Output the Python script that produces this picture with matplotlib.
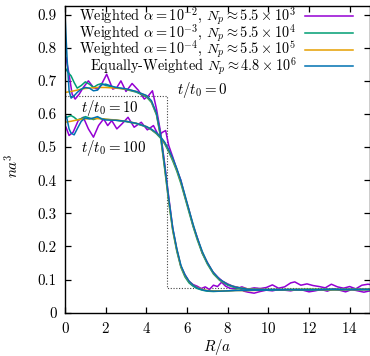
import matplotlib
matplotlib.use("Agg")
from matplotlib import pyplot as plt

plt.rcParams['font.family'] = 'serif'
plt.rcParams['font.serif'] = ['cmr10', 'DejaVu Serif']
plt.rcParams['mathtext.fontset'] = 'cm'
plt.rcParams['axes.formatter.use_mathtext'] = True

# shared radius grid for the smooth runs
r_s = [0, 0.1, 0.2, 0.3, 0.45, 0.6, 0.8, 1.0, 1.2, 1.4, 1.6, 1.8, 2.0, 2.5, 3.0,
       3.5, 4.0, 4.25, 4.5, 4.7, 4.9, 5.1, 5.3, 5.5, 5.7, 5.9, 6.1, 6.3, 6.5,
       6.75, 7.0, 7.3, 7.6, 8.0, 8.4, 9.0, 10, 11, 12, 13, 14, 15]

# t/t0 = 10
green_10 = [0.74, 0.73, 0.722, 0.715, 0.695, 0.678, 0.686, 0.697, 0.69, 0.68, 0.688,
            0.692, 0.686, 0.68, 0.674, 0.666, 0.652, 0.635, 0.597, 0.53, 0.435, 0.335,
            0.247, 0.185, 0.137, 0.108, 0.09, 0.08, 0.073, 0.068, 0.065, 0.064, 0.065,
            0.066, 0.068, 0.067, 0.07, 0.069, 0.07, 0.071, 0.07, 0.071]
orange_10 = [0.665, 0.666, 0.667, 0.668, 0.67, 0.672, 0.675, 0.677, 0.678, 0.679, 0.68,
             0.68, 0.68, 0.678, 0.675, 0.668, 0.655, 0.638, 0.6, 0.535, 0.44, 0.34,
             0.25, 0.19, 0.14, 0.112, 0.094, 0.083, 0.076, 0.07, 0.067, 0.066, 0.066,
             0.066, 0.067, 0.067, 0.068, 0.068, 0.069, 0.069, 0.07, 0.07]
blue_10 = [0.90, 0.77, 0.67, 0.648, 0.655, 0.665, 0.675, 0.68, 0.678, 0.67, 0.672,
           0.688, 0.69, 0.68, 0.676, 0.668, 0.656, 0.64, 0.602, 0.538, 0.445, 0.345,
           0.255, 0.193, 0.143, 0.114, 0.095, 0.083, 0.075, 0.069, 0.066, 0.065, 0.065,
           0.066, 0.067, 0.068, 0.068, 0.069, 0.069, 0.07, 0.07, 0.07]

# t/t0 = 100
green_100 = [0.59, 0.59, 0.593, 0.595, 0.59, 0.582, 0.586, 0.592, 0.588, 0.583, 0.588,
             0.586, 0.584, 0.581, 0.577, 0.571, 0.561, 0.552, 0.54, 0.527, 0.51, 0.486,
             0.458, 0.427, 0.39, 0.347, 0.303, 0.26, 0.221, 0.179, 0.147, 0.117, 0.098,
             0.083, 0.075, 0.07, 0.069, 0.07, 0.071, 0.069, 0.07, 0.07]
orange_100 = [0.575, 0.576, 0.577, 0.578, 0.58, 0.582, 0.584, 0.585, 0.586, 0.586, 0.586,
              0.585, 0.584, 0.582, 0.578, 0.572, 0.562, 0.553, 0.542, 0.53, 0.513, 0.49,
              0.463, 0.432, 0.395, 0.352, 0.308, 0.265, 0.225, 0.183, 0.15, 0.12, 0.1,
              0.085, 0.077, 0.072, 0.07, 0.07, 0.07, 0.07, 0.07, 0.07]
blue_100 = [0.60, 0.585, 0.555, 0.542, 0.537, 0.555, 0.578, 0.588, 0.585, 0.588, 0.592,
            0.585, 0.582, 0.581, 0.578, 0.572, 0.562, 0.554, 0.543, 0.531, 0.515, 0.492,
            0.466, 0.435, 0.398, 0.355, 0.31, 0.267, 0.227, 0.185, 0.151, 0.121, 0.101,
            0.085, 0.077, 0.071, 0.07, 0.07, 0.069, 0.07, 0.07, 0.07]

# noisy weighted alpha=1e-2 runs
r_p10 = [0.05, 0.2, 0.35, 0.5, 0.7, 0.9, 1.15, 1.4, 1.6, 1.8, 2.05, 2.35, 2.55, 2.75,
         3.0, 3.3, 3.6, 3.9, 4.1, 4.3, 4.5, 4.7, 4.9, 5.1, 5.3, 5.5, 5.7, 5.9, 6.1,
         6.3, 6.5, 6.7, 6.9, 7.1, 7.3, 7.5, 7.7, 7.9, 8.1, 8.4, 8.7, 9.0, 9.3, 9.6,
         9.9, 10.2, 10.5, 10.8, 11.1, 11.3, 11.6, 11.9, 12.2, 12.5, 12.8, 13.1, 13.4,
         13.7, 14.0, 14.3, 14.6, 14.9, 15.0]
purple_10 = [0.77, 0.72, 0.66, 0.645, 0.66, 0.68, 0.70, 0.68, 0.675, 0.69, 0.72, 0.675,
             0.68, 0.70, 0.668, 0.692, 0.672, 0.645, 0.655, 0.67, 0.615, 0.545, 0.45,
             0.35, 0.255, 0.19, 0.14, 0.115, 0.095, 0.085, 0.08, 0.073, 0.078, 0.07,
             0.083, 0.079, 0.092, 0.08, 0.074, 0.072, 0.078, 0.071, 0.075, 0.073, 0.076,
             0.084, 0.074, 0.078, 0.09, 0.093, 0.083, 0.087, 0.082, 0.079, 0.075, 0.086,
             0.078, 0.074, 0.079, 0.072, 0.083, 0.086, 0.085]

r_p100 = [0.05, 0.2, 0.4, 0.65, 0.9, 1.15, 1.4, 1.65, 1.9, 2.1, 2.3, 2.55, 2.8, 3.1,
          3.4, 3.75, 4.05, 4.35, 4.6, 4.8, 4.95, 5.1, 5.3, 5.5, 5.7, 5.9, 6.1, 6.3,
          6.5, 6.75, 7.0, 7.25, 7.5, 7.75, 8.0, 8.25, 8.5, 8.8, 9.0, 9.3, 9.6, 9.9,
          10.2, 10.5, 10.8, 11.1, 11.4, 11.7, 12.0, 12.3, 12.6, 12.9, 13.2, 13.5,
          13.8, 14.1, 14.4, 14.7, 15.0]
purple_100 = [0.56, 0.535, 0.545, 0.58, 0.59, 0.555, 0.53, 0.565, 0.585, 0.565, 0.58,
              0.555, 0.57, 0.59, 0.56, 0.575, 0.552, 0.565, 0.535, 0.545, 0.55, 0.505,
              0.47, 0.432, 0.4, 0.35, 0.31, 0.262, 0.228, 0.18, 0.152, 0.125, 0.108,
              0.095, 0.087, 0.08, 0.077, 0.065, 0.062, 0.059, 0.064, 0.068, 0.066, 0.07,
              0.068, 0.066, 0.07, 0.068, 0.063, 0.066, 0.07, 0.065, 0.072, 0.068, 0.063,
              0.07, 0.066, 0.062, 0.066]

# initial step profile, t/t0 = 0
r_0 = [0, 5, 5, 15]
n_0 = [0.655, 0.655, 0.074, 0.074]

labels = [r'Weighted $\alpha = 10^{-2}$, $N_p \approx 5.5 \times 10^3$',
          r'Weighted $\alpha = 10^{-3}$, $N_p \approx 5.5 \times 10^4$',
          r'Weighted $\alpha = 10^{-4}$, $N_p \approx 5.5 \times 10^5$',
          r'Equally-Weighted $N_p \approx 4.8 \times 10^6$']
colors = ['#9400d3', '#009e73', '#e69f00', '#0072b2']

fig = plt.figure(figsize=(3.7, 3.56), dpi=100)
ax = fig.add_axes([65 / 370, 1 - 312.7 / 356, 305 / 370, 306.7 / 356])

ax.plot(r_0, n_0, color='#444444', linestyle=(0, (1, 1.5)), linewidth=0.8)

lw = 1.1
ax.plot(r_p10, purple_10, color=colors[0], lw=lw, label=labels[0])
ax.plot(r_p100, purple_100, color=colors[0], lw=lw)
ax.plot(r_s, green_10, color=colors[1], lw=lw, label=labels[1])
ax.plot(r_s, green_100, color=colors[1], lw=lw)
ax.plot(r_s, orange_10, color=colors[2], lw=lw, label=labels[2])
ax.plot(r_s, orange_100, color=colors[2], lw=lw)
ax.plot(r_s, blue_10, color=colors[3], lw=lw, label=labels[3])
ax.plot(r_s, blue_100, color=colors[3], lw=lw)

fs = 10.8
ax.text(5.5, 0.672, r'$t/t_0 = 0$', fontsize=fs, va='center')
ax.text(0.8, 0.618, r'$t/t_0 = 10$', fontsize=fs, va='center')
ax.text(0.8, 0.497, r'$t/t_0 = 100$', fontsize=fs, va='center')

ax.set_xlim(0, 15)
ax.set_ylim(0, 0.926)
ax.set_xticks(range(0, 15, 2))
ax.set_yticks([0, 0.1, 0.2, 0.3, 0.4, 0.5, 0.6, 0.7, 0.8, 0.9])
ax.set_yticklabels(['0', '0.1', '0.2', '0.3', '0.4', '0.5', '0.6', '0.7', '0.8', '0.9'])
ax.tick_params(direction='in', top=True, right=True, length=4, width=0.9,
               labelsize=fs, pad=6)
for s in ax.spines.values():
    s.set_linewidth(1.0)

ax.set_xlabel(r'$R/a$', fontsize=fs)
ax.set_ylabel(r'$na^3$', fontsize=fs)
ax.xaxis.set_label_coords(0.5, -0.08)
ax.yaxis.set_label_coords(-0.141, 0.48)

leg = ax.legend(loc='upper right', bbox_to_anchor=(0.955, 1.01), frameon=False,
                markerfirst=False, fontsize=10.3, handlelength=3.4, handletextpad=0.6,
                labelspacing=-0.38, borderpad=0.1, borderaxespad=0.1)

fig.savefig('out.png', dpi=100)
